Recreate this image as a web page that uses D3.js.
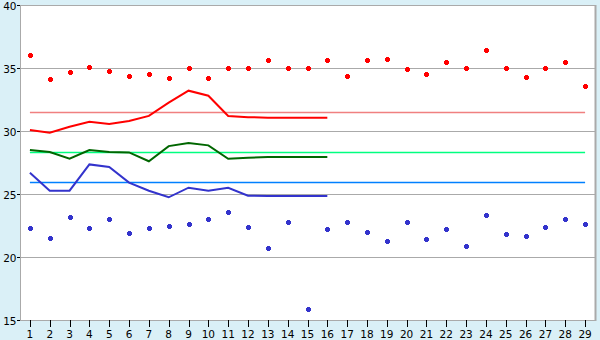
<!DOCTYPE html>
<html><head><meta charset="utf-8">
<script src="https://cdn.jsdelivr.net/npm/d3@7"></script>
<style>
html,body{margin:0;padding:0;background:#daf0f7;}
svg{display:block;}
text{font-family:"DejaVu Sans",Verdana,sans-serif;font-size:10px;fill:#000;}
</style></head>
<body><svg id="c" width="600" height="340"></svg>
<script>
const categories = d3.range(1, 30).map(String);
const yTicks = [15, 20, 25, 30, 35, 40];

const redDots = [36.0,34.1,34.7,35.1,34.8,34.4,34.5,34.2,35.0,34.2,35.0,35.0,35.6,35.0,35.0,35.6,34.4,35.6,35.7,34.9,34.5,35.5,35.0,36.4,35.0,34.3,35.0,35.45,33.6];
const blueDots = [22.3,21.5,23.2,22.3,23.0,21.9,22.3,22.5,22.6,23.0,23.6,22.4,20.7,22.8,15.85,22.2,22.75,22.0,21.3,22.8,21.4,22.2,20.85,23.3,21.8,21.7,22.4,23.0,22.6];

const redLine = [30.08,29.87,30.34,30.74,30.56,30.8,31.2,32.25,33.2,32.8,31.19,31.1,31.06,31.06,31.06,31.06];
const greenLine = [28.49,28.33,27.8,28.49,28.33,28.3,27.6,28.8,29.05,28.86,27.8,27.88,27.94,27.94,27.94,27.94];
const blueLine = [26.69,25.26,25.26,27.35,27.14,25.9,25.26,24.74,25.5,25.26,25.5,24.87,24.84,24.84,24.84,24.84];

const refRed = 31.47;
const refGreen = 28.31;
const refBlue = 25.95;

const W = 600, H = 340;
const m = {left: 20, right: 5, top: 5, bottom: 20};
const svg = d3.select("#c");

const x = d3.scaleBand().domain(categories).range([m.left, W - m.right]);
const cx = c => x(c) + x.bandwidth() / 2;
const y = d3.scaleLinear().domain([15, 40]).range([H - m.bottom, m.top]);

svg.append("rect").attr("x", m.left).attr("y", m.top)
  .attr("width", W - m.right - m.left).attr("height", H - m.bottom - m.top)
  .attr("fill", "#fff");

svg.append("g").selectAll("line").data(yTicks).join("line")
  .attr("x1", m.left).attr("x2", W - m.right)
  .attr("y1", d => Math.round(y(d)) + 0.5).attr("y2", d => Math.round(y(d)) + 0.5)
  .attr("stroke", "#aaa").attr("stroke-width", 1);
svg.append("line").attr("x1", m.left + 0.5).attr("x2", m.left + 0.5)
  .attr("y1", m.top).attr("y2", H - m.bottom).attr("stroke", "#aaa");
svg.append("line").attr("x1", W - m.right + 0.5).attr("x2", W - m.right + 0.5)
  .attr("y1", m.top).attr("y2", H - m.bottom + 1).attr("stroke", "#aaa").attr("stroke-width", 2);

const ya = svg.append("g");
ya.selectAll("line").data(yTicks).join("line")
  .attr("x1", m.left - 3).attr("x2", m.left)
  .attr("y1", d => Math.round(y(d)) + 0.5).attr("y2", d => Math.round(y(d)) + 0.5)
  .attr("stroke", "#000");
ya.selectAll("text").data(yTicks).join("text")
  .attr("x", m.left - 3.5).attr("y", d => y(d) + 4.5)
  .attr("text-anchor", "end").style("font-size", "10.5px").text(d => d);

const xa = svg.append("g");
xa.selectAll("line").data(categories).join("line")
  .attr("x1", d => Math.round(cx(d)) + 0.5).attr("x2", d => Math.round(cx(d)) + 0.5)
  .attr("y1", H - m.bottom).attr("y2", H - m.bottom + 7)
  .attr("stroke", "#000");
xa.selectAll("text").data(categories).join("text")
  .attr("x", d => cx(d)).attr("y", H - 2.5)
  .attr("text-anchor", "middle").style("font-size", "10.5px").text(d => d);

const refs = [[refRed, "#f08080"], [refGreen, "#00ff80"], [refBlue, "#0080ff"]];
svg.append("g").selectAll("line").data(refs).join("line")
  .attr("x1", cx(categories[0])).attr("x2", cx(categories[categories.length - 1]))
  .attr("y1", d => Math.round(y(d[0])) + 0.5).attr("y2", d => Math.round(y(d[0])) + 0.5)
  .attr("stroke", d => d[1]).attr("stroke-width", 1.5);

const line = d3.line().x((d, i) => cx(categories[i])).y(d => y(d));
[[redLine, "#ff0000"], [greenLine, "#006600"], [blueLine, "#3333cc"]].forEach(([data, col]) => {
  svg.append("path").datum(data).attr("d", line)
    .attr("fill", "none").attr("stroke", col).attr("stroke-width", 2);
});

function markers(data, col) {
  const g = svg.append("g").attr("fill", col).attr("shape-rendering", "crispEdges");
  const sel = g.selectAll("g").data(data).join("g")
    .attr("transform", (d, i) => `translate(${Math.round(cx(categories[i]))},${Math.round(y(d))})`);
  sel.append("rect").attr("x", -2).attr("y", -1).attr("width", 5).attr("height", 3);
  sel.append("rect").attr("x", -1).attr("y", -2).attr("width", 3).attr("height", 5);
}
markers(redDots, "#ff0000");
markers(blueDots, "#3333cc");
</script></body></html>
